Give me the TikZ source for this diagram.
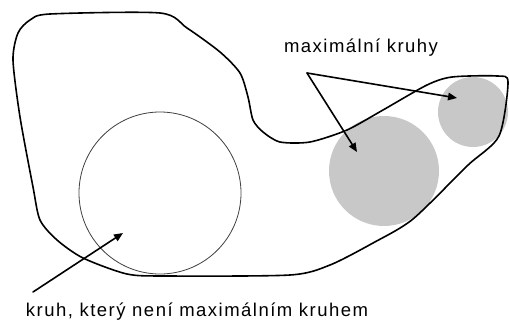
\documentclass[tikz,border=0pt]{standalone}
\usepackage{fontspec}
\setmainfont{Liberation Sans}[LetterSpace=8]
\usetikzlibrary{arrows.meta}
\definecolor{diskgray}{RGB}{200,200,200}

\begin{document}
\begin{tikzpicture}[x=1pt,y=-1pt,>={Triangle[length=9pt,width=7.5pt]},line cap=round,line join=round,
  disk/.style={circle,inner sep=0pt,draw=black!75,line width=0.8pt},
  maxdisk/.style={circle,inner sep=0pt,fill=diskgray},
  pointer/.style={->,line width=1.6pt},
  lbl/.style={font=\fontsize{18.5}{20}\selectfont,inner sep=0pt}]
\useasboundingbox (0,0) rectangle (509,324);
% circles
\node[disk,minimum size=162pt] (free) at (160,193) {};
\node[maxdisk,minimum size=110pt] (big) at (384,171) {};
\node[maxdisk,minimum size=70pt] (small) at (473,112) {};
% the region
\draw[line width=1.6pt] plot[smooth cycle,tension=0.45] coordinates {
  (50,14) (160,13) (187,28) (220,52) (240,73) (248,97) (253,120) (263,132)
  (280,142) (310,142) (347,130) (383,110) (427,85) (452,77) (497,76) (508,82)
  (499,136) (467,166) (413,219) (373,243) (330,265) (290,275) (167,276)
  (127,274) (83,258) (57,240) (40,220) (33,187) (20,117) (13,60) (18,33) (30,20)};
% labels
\node[lbl] (maxlbl) at (361,48) {maximální kruhy};
\node[lbl] (freelbl) at (197,312) {kruh, který není maximálním kruhem};
\coordinate (fork) at (307,73);
\coordinate (bigtip) at (357,152);
\coordinate (smalltip) at (457,98);
\coordinate (tail) at (33,292);
\coordinate (freetip) at (123,233);
% arrows
\draw[pointer] (fork) -- (bigtip);
\draw[pointer] (fork) -- (smalltip);
\draw[pointer] (tail) -- (freetip);
\end{tikzpicture}
\end{document}
